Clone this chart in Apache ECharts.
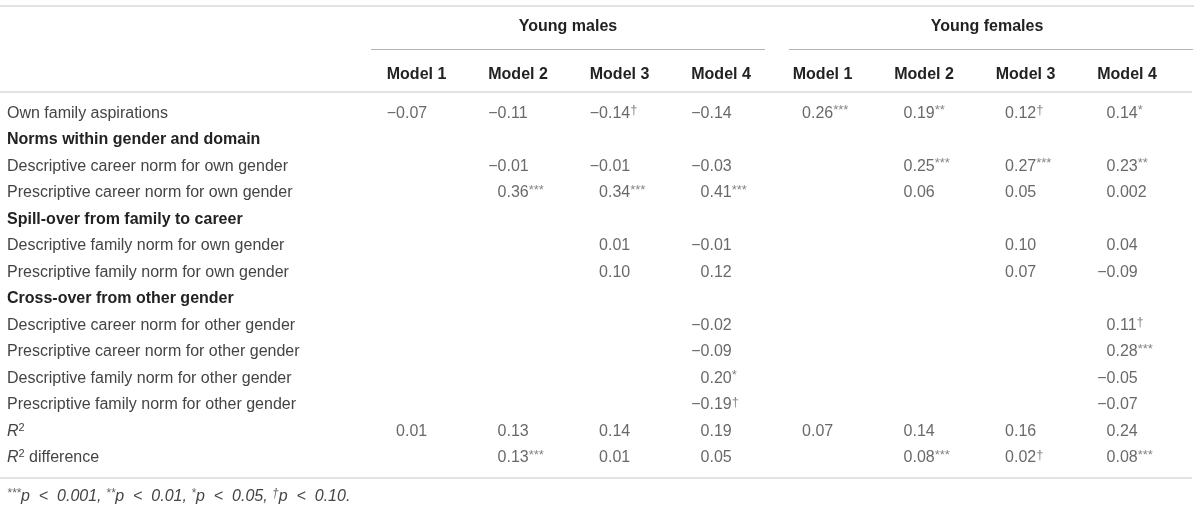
<!DOCTYPE html>
<html>
<head>
<meta charset="utf-8">
<script src="https://cdn.jsdelivr.net/npm/echarts@6/dist/echarts.min.js"></script>
<style>
html,body{margin:0;padding:0;background:#fff}
#chart{width:1200px;height:512px}
</style>
</head>
<body>
<div id="chart"></div>
<script>
// 行标签（预测变量）
var rows = [
	'Own family aspirations',
	'Norms within gender and domain',
	'Descriptive career norm for own gender',
	'Prescriptive career norm for own gender',
	'Spill-over from family to career',
	'Descriptive family norm for own gender',
	'Prescriptive family norm for own gender',
	'Cross-over from other gender',
	'Descriptive career norm for other gender',
	'Prescriptive career norm for other gender',
	'Descriptive family norm for other gender',
	'Prescriptive family norm for other gender',
	'R²',
	'R² difference'
];
var sectionRows = ['Norms within gender and domain', 'Spill-over from family to career', 'Cross-over from other gender'];
var groups = ['Young males', 'Young females'];
var columnKeys = ['m1', 'm2', 'm3', 'm4', 'f1', 'f2', 'f3', 'f4'];
var modelLabels = ['Model 1', 'Model 2', 'Model 3', 'Model 4', 'Model 1', 'Model 2', 'Model 3', 'Model 4'];

// 系数（null = 空单元格）
var maleM1 = [-0.07, null, null, null, null, null, null, null, null, null, null, null, 0.01, null];
var maleM2 = [-0.11, null, -0.01, 0.36, null, null, null, null, null, null, null, null, 0.13, 0.13];
var maleM3 = [-0.14, null, -0.01, 0.34, null, 0.01, 0.10, null, null, null, null, null, 0.14, 0.01];
var maleM4 = [-0.14, null, -0.03, 0.41, null, -0.01, 0.12, null, -0.02, -0.09, 0.20, -0.19, 0.19, 0.05];
var femaleM1 = [0.26, null, null, null, null, null, null, null, null, null, null, null, 0.07, null];
var femaleM2 = [0.19, null, 0.25, 0.06, null, null, null, null, null, null, null, null, 0.14, 0.08];
var femaleM3 = [0.12, null, 0.27, 0.05, null, 0.10, 0.07, null, null, null, null, null, 0.16, 0.02];
var femaleM4 = [0.14, null, 0.23, 0.002, null, 0.04, -0.09, null, 0.11, 0.28, -0.05, -0.07, 0.24, 0.08];

// 显著性标记
var maleSig1 = ['', '', '', '', '', '', '', '', '', '', '', '', '', ''];
var maleSig2 = ['', '', '', '***', '', '', '', '', '', '', '', '', '', '***'];
var maleSig3 = ['†', '', '', '***', '', '', '', '', '', '', '', '', '', ''];
var maleSig4 = ['', '', '', '***', '', '', '', '', '', '', '*', '†', '', ''];
var femaleSig1 = ['***', '', '', '', '', '', '', '', '', '', '', '', '', ''];
var femaleSig2 = ['**', '', '***', '', '', '', '', '', '', '', '', '', '', '***'];
var femaleSig3 = ['†', '', '***', '', '', '', '', '', '', '', '', '', '', '†'];
var femaleSig4 = ['*', '', '**', '', '', '', '', '', '†', '***', '', '', '', '***'];

var FONT = '"Liberation Sans", Arial, Helvetica, sans-serif';
var TEXT = '#444';
var SUP = '#666';
var BOLD = '#222';
var RULE = '#e2e2e2';

var valueCols = [maleM1, maleM2, maleM3, maleM4, femaleM1, femaleM2, femaleM3, femaleM4];
var sigCols = [maleSig1, maleSig2, maleSig3, maleSig4, femaleSig1, femaleSig2, femaleSig3, femaleSig4];
var cells = [];
for (var c = 0; c < valueCols.length; c++) {
	for (var r = 0; r < valueCols[c].length; r++) {
		if (valueCols[c][r] !== null) cells.push([c, r, valueCols[c][r], sigCols[c][r]]);
	}
}

// 单元格文本：正数前留出负号宽度，显著性上标
function cellText(p) {
	var v = p.value[2], s = p.value[3];
	var a = Math.abs(v);
	var txt = a.toFixed(a > 0 && a < 0.01 ? 3 : 2);
	var out = v < 0 ? '{n|\u2212' + txt + '}' : '{h|\u2212}{n|' + txt + '}';
	if (s) out += '{s|' + s + '}';
	return out;
}

function rowText(v) {
	if (sectionRows.indexOf(v) >= 0) return '{b|' + v + '}';
	if (v.indexOf('R²') === 0) return '{i|R}{sup|2}' + (v.length > 2 ? '{t|' + v.slice(2) + '}' : '');
	return '{t|' + v + '}';
}

var chart = echarts.init(document.getElementById('chart'));
var option = {
	backgroundColor: '#fff',
	animation: false,
	grid: { left: 336, right: 52, top: 100, bottom: 41 },
	xAxis: {
		type: 'category',
		position: 'top',
		data: columnKeys,
		axisLine: { show: false },
		axisTick: { show: false },
		splitLine: { show: false },
		axisLabel: {
			interval: 0,
			align: 'left',
			margin: 17,
			fontFamily: FONT,
			fontSize: 16,
			fontWeight: 'bold',
			color: BOLD,
			formatter: function (v, i) { return modelLabels[i]; }
		}
	},
	yAxis: {
		type: 'category',
		data: rows,
		inverse: true,
		axisLine: { show: false },
		axisTick: { show: false },
		splitLine: { show: false },
		axisLabel: {
			interval: 0,
			align: 'left',
			margin: 329,
			formatter: rowText,
			rich: {
				t: { fontFamily: FONT, fontSize: 16, color: TEXT, lineHeight: 18 },
				b: { fontFamily: FONT, fontSize: 16, fontWeight: 'bold', color: BOLD, lineHeight: 18 },
				i: { fontFamily: FONT, fontSize: 16, fontStyle: 'italic', color: TEXT, lineHeight: 18 },
				sup: { fontFamily: FONT, fontSize: 11, color: TEXT, lineHeight: 11, verticalAlign: 'top' }
			}
		}
	},
	series: [{
		type: 'scatter',
		symbolSize: 0,
		data: cells,
		silent: true,
		label: {
			show: true,
			position: 'right',
			distance: 0,
			formatter: cellText,
			rich: {
				n: { fontFamily: FONT, fontSize: 16, color: TEXT, lineHeight: 18 },
				h: { fontFamily: FONT, fontSize: 16, color: 'rgba(0,0,0,0)', lineHeight: 18 },
				s: { fontFamily: FONT, fontSize: 13, color: SUP, lineHeight: 13, verticalAlign: 'top' }
			}
		}
	}],
	graphic: [
		{ type: 'rect', shape: { x: 0, y: 5, width: 1194, height: 2 }, style: { fill: RULE } },
		{ type: 'rect', shape: { x: 0, y: 91, width: 1192, height: 2 }, style: { fill: RULE } },
		{ type: 'rect', shape: { x: 0, y: 477, width: 1192, height: 2 }, style: { fill: RULE } },
		{ type: 'line', shape: { x1: 371, y1: 49.5, x2: 765, y2: 49.5 }, style: { stroke: '#b5b5b5', lineWidth: 1 } },
		{ type: 'line', shape: { x1: 789, y1: 49.5, x2: 1193, y2: 49.5 }, style: { stroke: '#b5b5b5', lineWidth: 1 } },
		{ type: 'text', x: 568, y: 27, style: { text: groups[0], fontFamily: FONT, fontSize: 16, fontWeight: 'bold', fill: BOLD, align: 'center', verticalAlign: 'middle' } },
		{ type: 'text', x: 987, y: 27, style: { text: groups[1], fontFamily: FONT, fontSize: 16, fontWeight: 'bold', fill: BOLD, align: 'center', verticalAlign: 'middle' } },
		{
			type: 'text', x: 7, y: 497,
			style: {
				text: '{s|***}{t|p  <  0.001, }{s|**}{t|p  <  0.01, }{s|*}{t|p  <  0.05, }{s|†}{t|p  <  0.10.}',
				verticalAlign: 'middle',
				rich: {
					t: { fontFamily: FONT, fontSize: 16, fontStyle: 'italic', fill: TEXT, lineHeight: 18 },
					s: { fontFamily: FONT, fontSize: 12, fontStyle: 'italic', fill: SUP, lineHeight: 12, verticalAlign: 'top' }
				}
			}
		}
	]
};
chart.setOption(option);
</script>
</body>
</html>
